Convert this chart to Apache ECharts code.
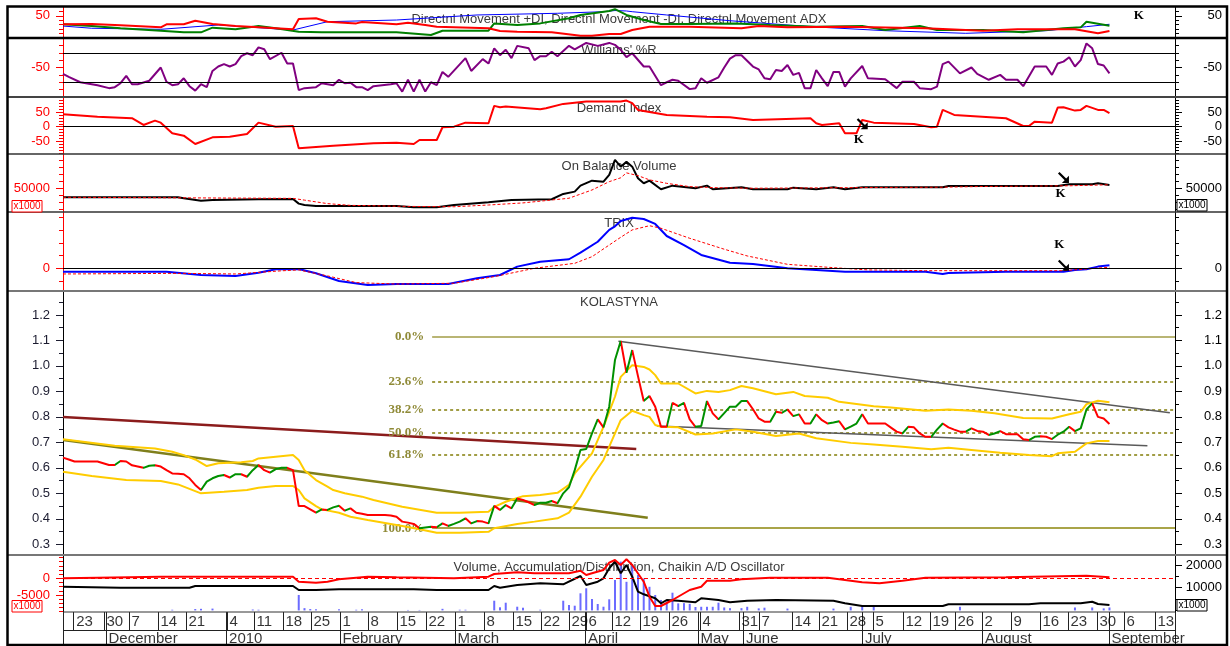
<!DOCTYPE html>
<html><head><meta charset="utf-8">
<script src="https://cdn.jsdelivr.net/npm/echarts@6/dist/echarts.min.js"></script>
<style>html,body{margin:0;padding:0;background:#fff}#c{width:1230px;height:646px}</style>
</head><body><div id="c"></div>
<script>
// ================= DATA =================
// x = trading-day index from the first session on the chart
const XMAX = 193.4;
const dayTickIdx = [1.86,7.13,11.48,16.52,21.39,28.52,33.22,38.26,43.13,48.17,53.04,58.09,63.13,68.17,73.22,78.26,83.13,88,90.96,95.48,100.35,105.39,110.78,117.57,121.04,126.78,131.48,136.35,140.87,146.09,150.78,155.13,159.83,164.87,169.91,174.78,179.83,184.52,189.91];
const dayTickLabels = ['23','30','7','14','21','4','11','18','25','1','8','15','22','1','8','15','22','29','6','12','19','26','4','31','7','14','21','28','5','12','19','26','2','9','16','23','30','6','13'];
const monthIdx = [7.48,28.45,48.17,68.17,90.89,110.43,118.35,139.03,159.9,181.9];
const monthLabels = ['December','2010','February','March','April','May','June','July','August','September'];

// KOLASTYNA close
const priceVals = [0.640,0.633,0.625,0.625,0.625,0.625,0.625,0.618,0.611,0.611,0.627,0.625,0.610,0.605,0.600,0.608,0.610,0.605,0.591,0.578,
0.577,0.575,0.559,0.533,0.513,0.546,0.559,0.568,0.572,0.562,0.575,0.575,0.565,0.591,0.611,0.591,0.581,0.595,0.600,0.600,
0.591,0.450,0.450,0.437,0.424,0.437,0.435,0.445,0.451,0.432,0.441,0.424,0.420,0.415,0.415,0.415,0.415,0.413,0.408,0.389,
0.385,0.380,0.363,0.366,0.369,0.367,0.382,0.372,0.380,0.389,0.402,0.382,0.391,0.389,0.382,0.451,0.435,0.454,0.441,0.480,
0.474,0.465,0.454,0.463,0.463,0.470,0.461,0.500,0.524,0.591,0.670,0.674,0.735,0.790,0.759,0.840,1.023,1.098,0.973,1.062,
0.960,0.862,0.882,0.840,0.761,0.761,0.855,0.842,0.855,0.790,0.761,0.764,0.862,0.814,0.790,0.815,0.840,0.840,0.862,0.862,
0.830,0.794,0.781,0.781,0.820,0.816,0.829,0.803,0.810,0.774,0.774,0.810,0.787,0.774,0.778,0.783,0.751,0.762,0.774,0.810,
0.774,0.774,0.774,0.774,0.758,0.742,0.735,0.761,0.759,0.735,0.722,0.722,0.750,0.774,0.759,0.750,0.742,0.742,0.755,0.745,
0.742,0.729,0.735,0.744,0.732,0.732,0.732,0.712,0.709,0.722,0.724,0.722,0.713,0.730,0.742,0.761,0.744,0.755,0.829,0.853,
0.800,0.794,0.772];
const bandUpper = [[0,.712],[9,.687],[16,.676],[19,.663],[21,.65],[23,.633],[25,.607],[27,.618],[31,.622],[33,.627],[34,.637],[37,.644],[40,.65],[41,.631],[42,.591],[44,.552],[46,.526],[47,.513],[49,.50],[52,.487],[54,.474],[59,.447],[65,.424],[69,.424],[74,.428],[75,.447],[77,.467],[80,.489],[83,.493],[86,.502],[88,.533],[89,.578],[92,.657],[94,.761],[96,.879],[97,.957],[99,1.003],[101,.996],[102,.986],[103,.964],[104,.931],[107,.931],[110,.892],[112,.902],[114,.898],[116,.905],[118,.921],[120,.912],[124,.889],[127,.898],[129,.882],[133,.875],[135,.859],[141,.842],[144,.837],[150,.824],[154,.829],[158,.824],[162,.814],[167,.796],[172,.794],[175,.81],[177,.82],[178,.85],[180,.863],[182,.857]];
const bandLower = [[0,.585],[5,.568],[11,.552],[17,.548],[20,.535],[24,.50],[28,.506],[32,.513],[34,.522],[37,.529],[40,.529],[41,.513],[42,.48],[44,.45],[45,.437],[48,.424],[50,.408],[53,.395],[59,.372],[62,.359],[65,.345],[69,.345],[74,.349],[75,.363],[79,.38],[82,.389],[86,.402],[88,.424],[90,.487],[92,.565],[94,.631],[96,.735],[97,.787],[99,.824],[101,.807],[102,.80],[103,.768],[104,.761],[107,.759],[110,.731],[113,.735],[117,.751],[120,.742],[124,.725],[128,.735],[131,.716],[137,.698],[141,.692],[146,.683],[151,.673],[154,.679],[158,.67],[163,.659],[168,.65],[172,.646],[173,.657],[176,.663],[178,.696],[180,.705],[182,.705]];
const fibHigh = 1.114, fibLow = 0.363, fibStartIdx = 64.2;
const fibRatios = [0, 0.236, 0.382, 0.5, 0.618, 1];
const fibLabels = ['0.0%','23.6%','38.2%','50.0%','61.8%','100.0%'];
const trendDarkRed = [[0,0.800],[99.7,0.674]];
const trendOlive = [[0,0.709],[101.7,0.404]];
const trendResist = [[96.6,1.097],[192.5,0.816]];
const trendSupport = [[103.3,0.764],[188.6,0.687]];

// Directional movement
const dmiMinus = [[0,31],[5,31.6],[10,28.7],[17,24],[18,31],[21,31],[23,39],[26,31.6],[30,27],[34,24],[40,19.6],[41,43],[44,44.5],[46,36.8],[51,33],[52,36],[58,31],[60,34.6],[63,29.4],[65,25.6],[74,21.9],[76,15.8],[79,14.3],[85,12.8],[90,5.3],[92,5.3],[95,9],[97,9],[99,18],[102,25.6],[109,25.6],[118,22],[121,27],[126,24],[136,25.6],[150,22],[160,16.5],[166,19.6],[176,19.6],[180,10.5],[182,15.8]];
const dmiPlus = [[0,31],[5,27],[10,22],[17,16.5],[21,12.8],[24,12.8],[26,23.3],[30,19.6],[34,27],[37,22],[41,14.3],[45,12.8],[58,12.8],[64,6.8],[66,16.5],[74,16.5],[75,33],[79,29.4],[83,33],[88,44.5],[90,52],[95,61],[96,65],[98,52],[101,40.6],[104,31.6],[109,31.6],[117,33],[123,29.4],[131,25.6],[139,27],[143,18],[149,27],[152,18],[160,18],[167,12.8],[174,22],[177,24],[178,36.8],[182,27.8]];
const dmiAdx = [[0,27],[5,22],[17,19.6],[27,29.4],[40,18],[46,36.8],[58,40.6],[72,52],[86,55.8],[94,59.4],[96,62],[98,61],[99,59.4],[105,52],[116,39],[130,25.6],[143,16.5],[157,10.6],[171,16.5],[178,25.6],[182,31]];
// Williams %R
const williams = [[0,-63],[1,-69],[3,-80],[6,-86],[8,-92],[9,-90],[10,-82],[11,-67],[12,-84],[13,-84],[15,-77],[17,-50],[18,-79],[19,-86],[20,-84],[21,-72],[22,-88],[23,-97],[24,-84],[25,-90],[26,-57],[27,-48],[28,-43],[29,-48],[30,-43],[31,-27],[32,-21],[33,-25],[34,-9],[35,-13],[36,-33],[38,-20],[39,-42],[40,-42],[41,-96],[42,-92],[44,-90],[45,-82],[47,-86],[48,-75],[49,-82],[50,-81],[51,-90],[52,-90],[53,-96],[54,-88],[57,-84],[58,-82],[59,-99],[60,-75],[61,-99],[62,-75],[63,-99],[64,-80],[65,-86],[66,-59],[67,-69],[70,-31],[71,-57],[73,-33],[74,-42],[75,-11],[76,-25],[77,-14],[78,-31],[79,-6],[81,-11],[82,-35],[83,-27],[84,-27],[85,-18],[86,-27],[88,-6],[89,-13],[91,0],[93,-6],[95,0],[96,-4],[97,-14],[98,-29],[99,-21],[101,-48],[102,-48],[104,-86],[105,-80],[106,-75],[107,-77],[109,-94],[110,-92],[111,-72],[112,-81],[114,-70],[115,-50],[116,-32],[117,-25],[118,-25],[120,-48],[121,-54],[122,-72],[123,-74],[124,-55],[125,-57],[126,-45],[127,-65],[128,-61],[129,-92],[130,-92],[131,-55],[132,-72],[133,-88],[134,-59],[135,-59],[136,-89],[137,-72],[139,-47],[140,-72],[143,-74],[145,-92],[146,-79],[148,-79],[149,-92],[151,-94],[152,-89],[153,-43],[154,-38],[156,-62],[158,-50],[159,-63],[161,-75],[163,-65],[164,-75],[166,-75],[167,-88],[169,-48],[171,-48],[172,-65],[173,-42],[174,-38],[175,-29],[176,-48],[177,-35],[178,-1],[179,-11],[180,-43],[181,-46],[182,-62]];
// Demand Index
const demand = [[0,42.8],[6,34.5],[12,29],[14,5.9],[16,20.7],[17,13.8],[19,-22.8],[21,-31],[23,-59.7],[26,-36.6],[29,-34.5],[32,-25.2],[34,13.8],[37,0],[40,2.4],[41,-74.5],[47,-65.5],[54,-57.2],[58,-55],[61,-59.7],[62,-45.9],[65,-45.9],[66,-2],[68,0],[70,13.8],[74,11.7],[75,71.4],[76,66.9],[77,69],[83,60],[84,63.4],[87,78.3],[91,86.2],[97,86.2],[98,89.7],[99,80.7],[100,57.6],[105,40.3],[112,34.5],[116,32.4],[120,23.1],[130,29],[131,11.7],[132,5.9],[135,11.7],[136,-22.8],[138,-22.8],[139,23.1],[141,13.8],[148,9.3],[151,-2],[152,0],[153,57.6],[155,40.3],[164,29],[167,2.4],[168,2.4],[169,17.2],[172,13.8],[173,65.5],[174,66.9],[176,55.2],[177,57.6],[178,71.4],[180,57.6],[181,57.6],[182,46.2]];
// On Balance Volume (x1000)
const obv = [[0,37120],[20,37120],[21,35690],[24,32260],[26,33000],[34,34260],[40,34690],[41,28000],[42,26100],[44,24670],[58,24670],[61,22810],[65,22810],[68,26100],[74,29970],[78,33260],[85,34260],[87,41840],[89,45130],[90,53720],[92,60870],[94,59440],[95,69030],[96,90500],[97,80910],[98,88060],[99,80910],[100,64310],[101,57160],[102,60870],[104,48570],[106,53720],[110,50000],[112,53720],[113,48570],[118,51430],[120,48570],[126,48570],[127,50860],[131,48570],[134,51430],[136,48570],[139,51430],[153,51430],[154,53290],[173,53290],[175,55720],[179,55720],[180,57160],[182,54720]];
const obvSignal = [[0,37100],[40,35500],[42,33000],[46,28000],[50,25500],[60,24000],[68,23500],[74,26000],[80,29000],[88,35700],[92,47500],[95,59400],[97,65000],[98,72000],[100,68000],[102,62000],[105,57000],[109,52300],[113,50900],[120,50000],[140,51000],[153,51500],[160,52500],[175,53500],[182,55000]];
// TRIX
const trix = [[0,-0.27],[18,-0.27],[24,-0.53],[30,-0.6],[34,-0.35],[37,-0.08],[41,-0.06],[44,-0.39],[48,-1.0],[53,-1.31],[58,-1.24],[67,-1.24],[72,-0.79],[76,-0.53],[79,0.13],[83,0.52],[88,0.71],[90,1.23],[93,2.09],[95,3.02],[96,3.3],[97,3.72],[99,3.98],[101,3.88],[103,3.49],[105,2.54],[108,1.83],[111,1.05],[116,0.44],[120,0.34],[126,0],[136,-0.27],[150,-0.27],[153,-0.45],[154,-0.38],[164,-0.27],[174,-0.27],[176,-0.13],[178,-0.08],[180,0.13],[182,0.24]];
const trixSignal = [[0,-0.45],[20,-0.4],[30,-0.45],[38,-0.2],[41,-0.13],[46,-0.6],[51,-1.13],[58,-1.24],[68,-1.18],[75,-0.66],[82,0],[89,0.39],[92,0.91],[95,1.83],[97,2.44],[99,3.02],[102,3.35],[104,3.15],[109,2.36],[115,1.5],[119,0.97],[126,0.31],[133,0.08],[140,-0.13],[150,-0.19],[174,-0.19],[182,0.08]];
// Volume (x1000), Accumulation/Distribution, Chaikin A/D oscillator
const volBars = [[19,300],[23,600],[24,700],[26,800],[33,400],[34,300],[41,6800],[42,1000],[43,600],[44,500],[48,500],[51,300],[52,500],[60,200],[62,200],[66,700],[69,300],[70,300],[75,4270],[76,1370],[77,3390],[79,1630],[80,1190],[83,300],[87,4270],[88,2380],[89,2070],[90,7530],[91,9740],[92,5020],[93,2820],[94,1630],[95,4890],[96,13400],[97,21500],[98,12600],[99,20000],[100,15600],[101,14000],[102,10400],[103,6800],[104,4600],[105,4000],[106,7800],[107,3100],[108,3200],[109,2900],[110,1500],[111,1600],[112,1600],[113,1600],[114,3400],[115,1300],[116,1000],[118,1000],[119,1600],[121,900],[122,1200],[126,800],[134,800],[137,1600],[139,2000],[141,2400],[156,1600],[176,1300],[179,1300],[181,900],[182,1300]];
const adOsc = [[0,0],[6,180],[17,480],[40,480],[41,-1018],[44,-1317],[46,-1018],[48,-300],[53,480],[58,300],[68,0],[74,480],[75,1287],[79,1796],[82,1497],[88,1497],[90,2275],[91,988],[92,1497],[94,2485],[95,4700],[96,5479],[97,3982],[98,5688],[99,3982],[101,-1018],[102,-5509],[103,-8293],[104,-8293],[106,-6497],[109,-3503],[111,-2515],[112,-719],[116,-719],[118,-300],[123,180],[133,180],[136,-509],[139,-1198],[142,-1497],[146,-719],[150,180],[164,300],[178,778],[182,300]];
const adLine = [[0,-2515],[10,-2814],[22,-2814],[23,-2305],[40,-2305],[41,-3503],[44,-3503],[48,-3293],[61,-3293],[65,-3503],[74,-3503],[75,-2305],[76,-2814],[79,-2006],[83,-1497],[87,-1797],[90,689],[91,-2006],[93,-1018],[94,0],[95,3000],[96,4970],[97,1497],[98,3982],[99,480],[100,-4012],[101,-4790],[103,-5988],[104,-7485],[105,-6497],[107,-6706],[110,-7186],[111,-5988],[114,-6497],[116,-7186],[119,-6706],[124,-6497],[134,-6706],[136,-7485],[139,-8293],[153,-8293],[154,-7784],[168,-7784],[170,-7485],[177,-7485],[179,-7006],[180,-7694],[182,-7994]];
// "K" signal marks: [panel, x, y] and arrows
const kTexts = [[0,187.1,49.7],[2,138.4,-43],[3,173.5,42850],[4,173.3,1.83]];
const kArrows = [[2,139,10],[3,174,65450],[4,174,0.24]];

// axis ticks / labels
const dmiMajor=[50], dmiMinor=[10,20,30,40,60];
const wrMajor=[-50], wrMinor=[-95,-80,-65,-35,-20,-5];
const wrLevels=[-20,-80];
const diMajor=[-50,0,50], diMinor=[-90,-80,-70,-60,-40,-30,-20,-10,10,20,30,40,60,70,80,90,100];
const obvMajor=[50000], obvMinor=[20000,30000,40000,60000,70000,80000,90000];
const trixMajor=[0], trixMinor=[-1,1,2,3,4];
const priceMajor=[0.3,0.4,0.5,0.6,0.7,0.8,0.9,1.0,1.1,1.2], priceMinor=[0.35,0.45,0.55,0.65,0.75,0.85,0.95,1.05,1.15,1.25];
const volLMajor=[-5000,0], volLMinor=[-10000,-8750,-7500,-6250,-3750,-2500,-1250,1250,2500,3750,5000,6250];
const volRMajor=[10000,20000], volRMinor=[0,5000,15000];

// ================= CHART =================
const FONT = "'Liberation Sans', Arial, sans-serif";
const NARROW = "'Liberation Sans Narrow', 'Arial Narrow', 'Liberation Sans', sans-serif";
const SERIF = "'Liberation Serif', 'Times New Roman', serif";
const RED = '#ff0000', GREEN = '#009000';
const panels = [
  {top:7,  h:31,  min:0,      max:70,    major:dmiMajor,   minor:dmiMinor,   lc:RED,  col:RED},
  {top:38, h:59,  min:-110,   max:10,    major:wrMajor,    minor:wrMinor,    lc:RED,  col:RED},
  {top:97, h:57,  min:-94,    max:102,   major:diMajor,    minor:diMinor,    lc:RED,  col:RED},
  {top:154,h:58,  min:16000,  max:99000, major:obvMajor,   minor:obvMinor,   lc:RED,  col:RED},
  {top:212,h:79,  min:-1.79,  max:4.43,  major:trixMajor,  minor:trixMinor,  lc:RED,  col:RED},
  {top:291,h:264, min:0.258,  max:1.294, major:priceMajor, minor:priceMinor, lc:'#000', col:'#1c1c30', fmt:v=>v.toFixed(1)},
  {top:555,h:57,  min:-10090, max:6977,  major:volLMajor,  minor:volLMinor,  lc:'#000', col:RED}
];
const grids = panels.map(p=>({left:63,right:55,top:p.top,height:p.h,show:false}));
grids.push({left:63,right:55,top:612,height:33,show:false});
const xAxes = grids.map((g,i)=>({type:'value',gridIndex:i,min:0,max:XMAX,show:false}));
const yAxes = [];
function addY(grid,pos,min,max,ticks,labels,o){
  yAxes.push({type:'value',gridIndex:grid,position:pos,min,max,
    axisLine:{show:!!o.line,onZero:false,lineStyle:{color:o.lc||'#000',width:1}},
    axisTick:{show:true,length:o.len,customValues:ticks,lineStyle:{color:o.col,width:1}},
    axisLabel:{show:labels.length>0,customValues:labels.length?labels:ticks,color:o.col,fontSize:13,fontFamily:FONT,
      margin:pos==='left'?13:47,align:'right',formatter:o.fmt||(v=>String(v))},
    splitLine:{show:false},splitArea:{show:false}});
  return yAxes.length-1;
}
const leftY = [];
panels.forEach((p,i)=>{
  leftY.push(addY(i,'left',p.min,p.max,p.major,p.major,{line:true,lc:p.lc,col:p.col,len:7,fmt:p.fmt}));
  addY(i,'left',p.min,p.max,p.minor,[],{line:false,col:p.col,len:4});
  if(i!==6){
    addY(i,'right',p.min,p.max,p.major,p.major,{line:true,lc:'#000',col:'#000',len:7,fmt:p.fmt});
    addY(i,'right',p.min,p.max,p.minor,[],{line:false,col:'#000',len:4});
  }
});
const volRY = addY(6,'right',-700,24400,volRMajor,volRMajor,{line:true,lc:'#000',col:'#000',len:7});
addY(6,'right',-700,24400,volRMinor,[],{line:false,col:'#000',len:4});
const dateY = yAxes.length; yAxes.push({type:'value',gridIndex:7,min:0,max:33,show:false});

const series = [];
function line(panel,data,color,width,extra){
  series.push(Object.assign({type:'line',xAxisIndex:panel,yAxisIndex:leftY[panel],data,symbol:'none',showSymbol:false,
    lineStyle:color?{color,width}:{width},itemStyle:color?{color}:{},silent:true},extra||{}));
  return series.length-1;
}
function hLines(vals,color,type){
  return {silent:true,symbol:['none','none'],label:{show:false},lineStyle:{color,width:1,type:type||'solid'},data:vals.map(v=>({yAxis:v}))};
}
const ARROW = 'path://M2,0 L10.5,8.5 L14,5 L14,14 L5,14 L8.5,10.5 L0,2 Z';
function marksFor(panel){
  const d=[];
  kTexts.filter(k=>k[0]===panel).forEach(k=>d.push({coord:[k[1],k[2]],symbol:'circle',symbolSize:1,itemStyle:{color:'rgba(0,0,0,0)'},
    label:{show:true,position:'inside',formatter:'K',color:'#000',fontFamily:SERIF,fontWeight:'bold',fontSize:13}}));
  kArrows.filter(k=>k[0]===panel).forEach(k=>d.push({coord:[k[1],k[2]],symbol:ARROW,symbolSize:11,itemStyle:{color:'#000'},label:{show:false}}));
  return {silent:true,data:d};
}
// DMI
line(0,dmiAdx,'#0000ff',1);
line(0,dmiPlus,'#008000',2);
line(0,dmiMinus,RED,2,{markPoint:marksFor(0)});
// Williams
line(1,williams,'#800080',2,{markLine:hLines(wrLevels,'#000')});
// Demand
line(2,demand,RED,2,{markLine:hLines([0],'#000'),markPoint:marksFor(2)});
// OBV
line(3,obv,'#000',2,{markPoint:marksFor(3)});
line(3,obvSignal,RED,1,{lineStyle:{color:RED,width:1,type:[3,2]}});
// TRIX
line(4,trix,'#0000ff',2,{markLine:hLines([0],'#000'),markPoint:marksFor(4)});
line(4,trixSignal,RED,1,{lineStyle:{color:RED,width:1,type:[3,2]}});
// Main: fib lines
series.push({type:'lines',coordinateSystem:'cartesian2d',xAxisIndex:5,yAxisIndex:leftY[5],silent:true,
  data:fibRatios.map((r,i)=>{
    const lv = fibHigh-(fibHigh-fibLow)*r;
    const solid = (r===0||r===1);
    return {coords:[[fibStartIdx,lv],[XMAX,lv]],
      lineStyle:{color: r===0?'#b9b574':(r===1?'#a9a448':'#a19d45'),width:2,type:solid?'solid':[3,3],opacity:1},
      label:{show:true,position:'start',distance:8,formatter:fibLabels[i],color:'#8f8a37',fontFamily:SERIF,fontWeight:'bold',fontSize:13}};
  })});
series.push({type:'lines',coordinateSystem:'cartesian2d',xAxisIndex:5,yAxisIndex:leftY[5],silent:true,
  data:[
    {coords:trendDarkRed,lineStyle:{color:'#8b1c1c',width:2.5,opacity:1}},
    {coords:trendOlive,lineStyle:{color:'#7f7f1c',width:2.5,opacity:1}},
    {coords:trendResist,lineStyle:{color:'#5a5a5a',width:1.5,opacity:1}},
    {coords:trendSupport,lineStyle:{color:'#5a5a5a',width:1.5,opacity:1}}
  ]});
line(5,bandUpper,'#ffcc00',2);
line(5,bandLower,'#ffcc00',2);
const priceIdx = line(5,priceVals.map((v,i)=>[i,v]),null,2);
const pieces=[]; let up=false;
for(let i=1;i<priceVals.length;i++){
  if(priceVals[i]>priceVals[i-1]) up=true; else if(priceVals[i]<priceVals[i-1]) up=false;
  pieces.push(i===1?{gte:0,lte:1,color:up?GREEN:RED}:{gt:i-1,lte:i,color:up?GREEN:RED});
}
// Volume panel
series.push({type:'bar',xAxisIndex:6,yAxisIndex:volRY,data:volBars,barWidth:2,itemStyle:{color:'#6b6bff'},silent:true});
line(6,adLine,'#000',2);
line(6,adOsc,RED,2,{markLine:hLines([0],RED,[4,3])});
// Date rows
const dLines = [];
dayTickIdx.forEach(t=>dLines.push({coords:[[t,15],[t,33]]}));
monthIdx.forEach(m=>dLines.push({coords:[[m,0],[m,33]]}));
dLines.push({coords:[[0,15],[XMAX,15]]});
dLines.push({coords:[[0,0],[0,33]]});
dLines.push({coords:[[XMAX,0],[XMAX,33]]});
series.push({type:'lines',coordinateSystem:'cartesian2d',xAxisIndex:7,yAxisIndex:dateY,silent:true,
  lineStyle:{color:'#222',width:1,opacity:1},data:dLines});
const lbl = (size)=>({show:true,position:'right',distance:2,formatter:p=>p.data[2],color:'#000',fontSize:size,fontFamily:NARROW});
series.push({type:'scatter',xAxisIndex:7,yAxisIndex:dateY,silent:true,symbolSize:1,itemStyle:{color:'rgba(0,0,0,0)'},
  data:dayTickIdx.map((t,i)=>[t,23.5,dayTickLabels[i]]),label:lbl(15)});
series.push({type:'scatter',xAxisIndex:7,yAxisIndex:dateY,silent:true,symbolSize:1,itemStyle:{color:'rgba(0,0,0,0)'},
  data:monthIdx.map((m,i)=>[m,6.5,monthLabels[i]]),label:lbl(15)});

// decorations
const titles = [
  ['Directnl Movement +DI, Directnl Movement -DI, Directnl Movement ADX',19],
  ["Williams' %R",50],['Demand Index',108],['On Balance Volume',166],['TRIX',223],['KOLASTYNA',302],
  ['Volume, Accumulation/Distribution, Chaikin A/D Oscillator',567]];
const seps = [[38,2.5,'#000'],[97,2,'#444'],[154,1.5,'#333'],[212,1.5,'#333'],[291,2,'#777'],[555,2,'#777']];
const elements = [];
titles.forEach(t=>elements.push({type:'text',x:619,y:t[1],z:0,silent:true,
  style:{text:t[0],textAlign:'center',textVerticalAlign:'middle',fill:'#3a3a3a',font:"13px 'Liberation Sans', Arial, sans-serif"}}));
seps.forEach(s=>elements.push({type:'line',z:50,silent:true,shape:{x1:7,y1:s[0],x2:1227,y2:s[0]},style:{stroke:s[2],lineWidth:s[1]}}));
elements.push({type:'line',z:50,silent:true,shape:{x1:63,y1:612,x2:1175,y2:612},style:{stroke:'#333',lineWidth:1}});
[[12,200.5,RED],[1177,199.5,'#000'],[12,600.5,RED],[1177,599.5,'#000']].forEach(b=>{
  elements.push({type:'rect',z:50,silent:true,shape:{x:b[0],y:b[1],width:30,height:11.5},style:{fill:'#fff',stroke:b[2],lineWidth:1}});
  elements.push({type:'text',z:51,silent:true,x:b[0]+15,y:b[1]+6,style:{text:'x1000',textAlign:'center',textVerticalAlign:'middle',fill:b[2],font:"10px 'Liberation Sans', Arial, sans-serif"}});
});
elements.push({type:'rect',z:60,silent:true,shape:{x:7.5,y:6.5,width:1219.5,height:638.5},style:{fill:'transparent',stroke:'#000',lineWidth:2.5}});

const chart = echarts.init(document.getElementById('c'),null,{renderer:'canvas'});
chart.setOption({
  animation:false, backgroundColor:'#fff',
  grid:grids, xAxis:xAxes, yAxis:yAxes,
  visualMap:[{type:'piecewise',show:false,seriesIndex:priceIdx,dimension:0,pieces,outOfRange:{color:RED}}],
  series, graphic:{elements}
});
</script></body></html>
